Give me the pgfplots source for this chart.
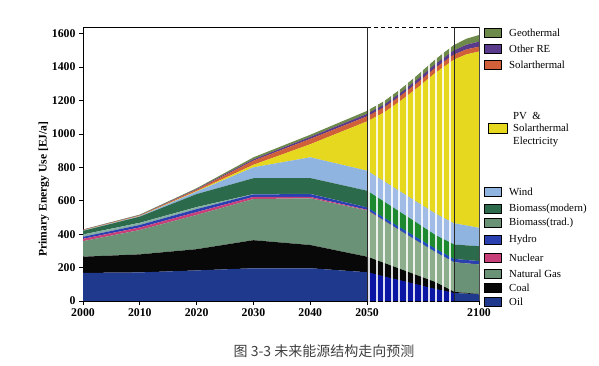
\documentclass[border=0pt]{standalone}
\usepackage{pgfplots}
\pgfplotsset{compat=1.18}
\usepackage{pgfplotstable}
\usepackage{fontspec}
\setmainfont{Liberation Serif}
\newfontfamily\cjk{Noto Sans CJK SC}

\definecolor{cOil}{HTML}{1F3A8C}
\definecolor{cCoal}{HTML}{080808}
\definecolor{cGas}{HTML}{6A9276}
\definecolor{cNuc}{HTML}{C8407A}
\definecolor{cHyd}{HTML}{2A3FB0}
\definecolor{cBT}{HTML}{86B0A4}
\definecolor{cBM}{HTML}{2C6A4C}
\definecolor{cWind}{HTML}{90B4E0}
\definecolor{cPV}{HTML}{E6D81E}
\definecolor{cSol}{HTML}{D0603A}
\definecolor{cOth}{HTML}{5A3A8A}
\definecolor{cGeo}{HTML}{6E8A4A}
% striped-region palette
\definecolor{sOil}{HTML}{0C16A4}
\definecolor{sGas}{HTML}{8CAE8C}
\definecolor{sHyd}{HTML}{2050C0}
\definecolor{sBM}{HTML}{1E8A30}
\definecolor{sWind}{HTML}{A0BCE6}

\pgfplotstableread{
u oil coal gas nuc hyd bt bm wind pv sol oth geo
0 168 97 93 14 12 14 22 2 1 2 2 1
10 171 108 146 15 15 13 37 3 1 3 2 3
20 183 127 205 17 18 12 78 15 3 8 4 5
30 196 168 246 13 15 2 95 65 15 25 8 12
40 196 139 280 8 17 1 95 124 78 32 12 13
50 172 93 277 4 14 0 100 120 295 30 15 18
53 147 80 253 2 16 0 96 122 413 30 16 20
56 122 67 228 1 18 0 92 124 549 30 17 22
59 97 54 204 0 20 0 87 126 692 30 20 25
62 72 41 180 0 20 0 82 129 841 30 22 28
65.3 48 7 177 0 20 0 86 127 980 30 25 32
67.5 44 4 177 0 20 0 88 119 1024 30 28 36
69.7 40 2 177 0 20 0 89 110 1055 29 30 40
}\datatable

\newcommand{\legfont}{\fontsize{10.8}{12.5}\selectfont}
\newcommand{\legbox}[3]{%
  \draw[black, line width=0.6pt, fill=#1] (484,{366-#2-4.5}) rectangle (501,{366-#2+4.5});
  \node[anchor=west, font=\legfont, inner sep=0pt] at (509,{366-#2}) {#3};}

\begin{document}
\begin{tikzpicture}[x=1pt,y=1pt]
\path[use as bounding box] (0,0) rectangle (599,366);

\begin{axis}[
  at={(83pt,65pt)}, anchor=south west,
  scale only axis, width=396pt, height=274pt,
  xmin=0, xmax=69.7, ymin=0, ymax=1640,
  axis x line*=bottom, axis y line*=left,
  axis line style={black, line width=0.9pt},
  stack plots=y,
  xtick={0,10,20,30,40,50,69.7},
  xticklabels={2000,2010,2020,2030,2040,2050,2100},
  ytick={0,200,...,1600},
  tick align=outside, major tick length=4pt,
  tick style={black, line width=0.7pt},
  /pgf/number format/assume math mode=true,
  /pgf/number format/1000 sep={},
  ticklabel style={font=\bfseries\fontsize{11.8}{11.8}\selectfont},
  clip=true,
]
\addplot[draw=none, fill=cOil] table[x=u,y=oil]{\datatable} \closedcycle;
\addplot[draw=none, fill=cCoal] table[x=u,y=coal]{\datatable} \closedcycle;
\addplot[draw=none, fill=cGas] table[x=u,y=gas]{\datatable} \closedcycle;
\addplot[draw=none, fill=cNuc] table[x=u,y=nuc]{\datatable} \closedcycle;
\addplot[draw=none, fill=cHyd] table[x=u,y=hyd]{\datatable} \closedcycle;
\addplot[draw=none, fill=cBT] table[x=u,y=bt]{\datatable} \closedcycle;
\addplot[draw=none, fill=cBM] table[x=u,y=bm]{\datatable} \closedcycle;
\addplot[draw=none, fill=cWind] table[x=u,y=wind]{\datatable} \closedcycle;
\addplot[draw=none, fill=cPV] table[x=u,y=pv]{\datatable} \closedcycle;
\addplot[draw=none, fill=cSol] table[x=u,y=sol]{\datatable} \closedcycle;
\addplot[draw=none, fill=cOth] table[x=u,y=oth]{\datatable} \closedcycle;
\addplot[draw=none, fill=cGeo] table[x=u,y=geo]{\datatable} \closedcycle;
\end{axis}

\begin{axis}[
  at={(83pt,65pt)}, anchor=south west,
  scale only axis, width=396pt, height=274pt,
  xmin=0, xmax=69.7, ymin=0, ymax=1640,
  hide axis, clip=false,
  stack plots=y,
  restrict x to domain=50:65.31,
]
\addplot[draw=none, fill=sOil] table[x=u,y=oil]{\datatable} \closedcycle;
\addplot[draw=none, fill=cCoal] table[x=u,y=coal]{\datatable} \closedcycle;
\addplot[draw=none, fill=sGas] table[x=u,y=gas]{\datatable} \closedcycle;
\addplot[draw=none, fill=cNuc] table[x=u,y=nuc]{\datatable} \closedcycle;
\addplot[draw=none, fill=sHyd] table[x=u,y=hyd]{\datatable} \closedcycle;
\addplot[draw=none, fill=cBT] table[x=u,y=bt]{\datatable} \closedcycle;
\addplot[draw=none, fill=sBM] table[x=u,y=bm]{\datatable} \closedcycle;
\addplot[draw=none, fill=sWind] table[x=u,y=wind]{\datatable} \closedcycle;
\addplot[draw=none, fill=cPV] table[x=u,y=pv]{\datatable} \closedcycle;
\addplot[draw=none, fill=cSol] table[x=u,y=sol]{\datatable} \closedcycle;
\addplot[draw=none, fill=cOth] table[x=u,y=oth]{\datatable} \closedcycle;
\addplot[draw=none, fill=cGeo] table[x=u,y=geo]{\datatable} \closedcycle;
\end{axis}

% white stripes of the compressed period (decoration)
\foreach \px in {369,377,384,392,399,407,414,422,429,436,443,450}{
  \draw[white, opacity=0.85, line width=1.3pt] (\px,64.3) -- (\px,332);
}
% frame
\draw[black, line width=0.9pt] (83,339) -- (367,339);
\draw[black, line width=0.9pt, dash pattern=on 4pt off 3pt] (367,339) -- (454,339);
\draw[black, line width=0.9pt] (454,339) -- (479,339);
\draw[black!85, line width=1pt] (367,65) -- (367,339);
\draw[black!85, line width=1pt] (454,65) -- (454,339);
\draw[black!70, line width=0.5pt] (479,65) -- (479,339);

% y label
\node[rotate=90, font=\bfseries\fontsize{11.6}{11.6}\selectfont] at (44,177) {Primary Energy Use [EJ/a]};

% legend
\legbox{cGeo}{32.5}{Geothermal}
\legbox{cOth}{49}{Other RE}
\legbox{cSol}{65}{Solarthermal}
\draw[black, line width=0.6pt, fill=cPV] (488,{366-128-5}) rectangle (507,{366-128+5});
\node[anchor=west, font=\legfont, inner sep=0pt, align=left] at (513,{366-129.5}) {PV~~\&\\Solarthermal\\Electricity};
\legbox{cWind}{192}{Wind}
\legbox{cBM}{208.5}{Biomass(modern)}
\legbox{cGas}{223}{Biomass(trad.)}
\legbox{cHyd}{239.5}{Hydro}
\legbox{cNuc}{257.5}{Nuclear}
\legbox{cGas}{273.5}{Natural Gas}
\legbox{cCoal}{288}{Coal}
\legbox{cOil}{302}{Oil}

% caption
\node[font=\cjk\fontsize{14}{14}\selectfont, text=black!75] at (324,{366-351}) {图 3-3\ 未来能源结构走向预测};
\end{tikzpicture}
\end{document}
